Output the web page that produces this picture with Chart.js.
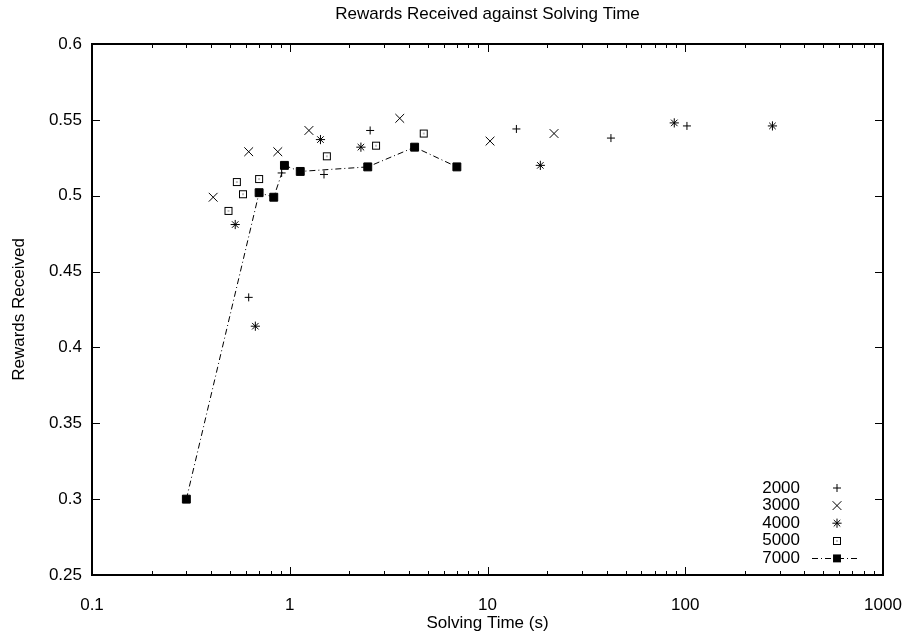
<!DOCTYPE html>
<html><head><meta charset="utf-8">
<script src="https://cdn.jsdelivr.net/npm/chart.js@4.4.0/dist/chart.umd.min.js"></script>
<style>html,body{margin:0;padding:0;background:#fff;}#wrap{width:908px;height:635px;}</style>
</head><body><div id="wrap"><canvas id="c" width="908" height="635"></canvas></div>
<script>
// ---- data ----
const seriesNames = ['2000', '3000', '4000', '5000', '7000'];
const t2000 = [0.62, 0.91, 1.49, 2.55, 14.0, 42.1, 102];
const r2000 = [0.433, 0.515, 0.514, 0.543, 0.544, 0.538, 0.546];
const t3000 = [0.41, 0.62, 0.87, 1.25, 3.6, 10.3, 21.7];
const r3000 = [0.499, 0.529, 0.529, 0.543, 0.551, 0.536, 0.541];
const t4000 = [0.53, 0.67, 1.43, 2.29, 18.5, 88, 276];
const r4000 = [0.481, 0.414, 0.537, 0.532, 0.520, 0.548, 0.546];
const t5000 = [0.49, 0.54, 0.58, 0.70, 1.54, 2.73, 4.76];
const r5000 = [0.490, 0.509, 0.501, 0.511, 0.526, 0.533, 0.541];
const t7000 = [0.30, 0.70, 0.83, 0.94, 1.13, 2.48, 4.28, 7.0];
const r7000 = [0.300, 0.502, 0.499, 0.520, 0.516, 0.519, 0.532, 0.519];
const xTickValues = [0.1, 1, 10, 100, 1000];
const yRange = [0.25, 0.6];

const FONT = '"Liberation Sans", Arial, Helvetica, sans-serif';
const FS = 17;
const DASH = [6, 3, 1, 3];

function pts(xs, ys) { return xs.map((v, i) => ({ x: v, y: ys[i] })); }

// square-with-dot marker
const sqDot = document.createElement('canvas');
sqDot.width = 10; sqDot.height = 10;
(function () {
  const g = sqDot.getContext('2d');
  g.strokeStyle = '#000'; g.lineWidth = 1;
  g.strokeRect(1.5, 1.5, 7, 7);
  g.fillStyle = '#000'; g.fillRect(4.5, 4.5, 1, 1);
})();

const styles = [
  { pointStyle: 'cross', pointRadius: 4 },
  { pointStyle: 'crossRot', pointRadius: 6.2 },
  { pointStyle: 'star', pointRadius: 4.6 },
  { pointStyle: sqDot, pointRadius: 5 },
  { pointStyle: 'rect', pointRadius: 5.6 }
];
const xs = [t2000, t3000, t4000, t5000, t7000];
const ys = [r2000, r3000, r4000, r5000, r7000];

const datasets = seriesNames.map((n, i) => ({
  label: n,
  data: pts(xs[i], ys[i]),
  pointStyle: styles[i].pointStyle,
  pointRadius: styles[i].pointRadius,
  pointHoverRadius: styles[i].pointRadius,
  pointBorderColor: '#000',
  pointBackgroundColor: '#000',
  pointBorderWidth: 1,
  borderColor: '#000',
  borderWidth: 1,
  borderDash: i === 4 ? DASH : [],
  showLine: i === 4,
  fill: false
}));

function drawSym(ctx, ds, x, y) {
  const r = ds.pointRadius;
  ctx.save();
  ctx.strokeStyle = '#000'; ctx.fillStyle = '#000'; ctx.lineWidth = 1; ctx.setLineDash([]);
  const st = ds.pointStyle;
  ctx.beginPath();
  if (st === 'cross' || st === 'star') {
    ctx.moveTo(x - r, y); ctx.lineTo(x + r, y); ctx.moveTo(x, y - r); ctx.lineTo(x, y + r);
  }
  if (st === 'crossRot' || st === 'star') {
    const d = r * Math.SQRT1_2;
    ctx.moveTo(x - d, y - d); ctx.lineTo(x + d, y + d); ctx.moveTo(x - d, y + d); ctx.lineTo(x + d, y - d);
  }
  ctx.stroke();
  if (st === 'rect') {
    const s = r * Math.SQRT1_2;
    ctx.fillRect(x - s, y - s, 2 * s, 2 * s);
  } else if (typeof st !== 'string') {
    ctx.drawImage(st, Math.round(x - st.width / 2), Math.round(y - st.height / 2));
  }
  ctx.restore();
}

const framePlugin = {
  id: 'frame',
  beforeDatasetsDraw(chart) {
    const { ctx, chartArea: a, scales } = chart;
    const x = scales.x, y = scales.y;
    ctx.save();
    ctx.strokeStyle = '#000'; ctx.lineWidth = 1;
    ctx.beginPath();
    const major = 8, minor = 4;
    for (let e = -1; e < 3; e++) {
      for (let m = 1; m < 10; m++) {
        const v = m * Math.pow(10, e);
        const px = Math.round(x.getPixelForValue(v)) + 0.5;
        const len = m === 1 ? major : minor;
        ctx.moveTo(px, a.bottom); ctx.lineTo(px, a.bottom - len);
        ctx.moveTo(px, a.top); ctx.lineTo(px, a.top + len);
      }
    }
    y.ticks.forEach(t => {
      const py = Math.round(y.getPixelForValue(t.value)) + 0.5;
      ctx.moveTo(a.left, py); ctx.lineTo(a.left + major, py);
      ctx.moveTo(a.right, py); ctx.lineTo(a.right - major, py);
    });
    ctx.stroke();
    ctx.lineWidth = 2;
    ctx.strokeRect(a.left, a.top, a.right - a.left, a.bottom - a.top);
    ctx.restore();
  }
};

const legendPlugin = {
  id: 'gpLegend',
  afterDatasetsDraw(chart) {
    const { ctx, chartArea: a } = chart;
    ctx.save();
    ctx.font = FS + 'px ' + FONT;
    ctx.fillStyle = '#000'; ctx.textAlign = 'right'; ctx.textBaseline = 'middle';
    chart.data.datasets.forEach((ds, i) => {
      const yy = a.bottom - 87 + i * 17.6;
      ctx.fillText(ds.label, a.right - 83, yy);
      const sx = a.right - 46;
      if (ds.showLine) {
        ctx.save();
        ctx.strokeStyle = '#000'; ctx.lineWidth = 1; ctx.setLineDash(DASH);
        ctx.beginPath();
        ctx.moveTo(a.right - 71, Math.round(yy) + 0.5); ctx.lineTo(a.right - 24, Math.round(yy) + 0.5);
        ctx.stroke();
        ctx.restore();
      }
      drawSym(ctx, ds, sx, yy);
    });
    ctx.restore();
  }
};

new Chart(document.getElementById('c'), {
  type: 'scatter',
  data: { datasets },
  options: {
    responsive: false,
    animation: false,
    devicePixelRatio: 1,
    layout: { padding: { left: 0, right: 25, top: 0, bottom: 0 } },
    plugins: {
      legend: { display: false },
      tooltip: { enabled: false },
      title: {
        display: true, fullSize: false,
        text: 'Rewards Received against Solving Time',
        color: '#000',
        font: { family: FONT, size: FS, weight: 'normal' },
        padding: { top: 4, bottom: 19.6 }
      }
    },
    scales: {
      x: {
        type: 'logarithmic', min: 0.1, max: 1000,
        afterBuildTicks: s => { s.ticks = xTickValues.map(v => ({ value: v })); },
        afterFit: s => { s.height = 60; s.paddingLeft = 0; s.paddingRight = 0; },
        ticks: { color: '#000', font: { family: FONT, size: FS }, padding: 20, maxRotation: 0, autoSkip: false,
                 callback: v => String(v) },
        grid: { display: false, drawTicks: false },
        border: { display: false },
        title: { display: true, text: 'Solving Time (s)', color: '#000', font: { family: FONT, size: FS }, padding: { top: 0, bottom: 1 } }
      },
      y: {
        min: yRange[0], max: yRange[1],
        afterFit: s => { s.width = 92; s.paddingTop = 0; s.paddingBottom = 0; },
        ticks: { stepSize: 0.05, color: '#000', font: { family: FONT, size: FS }, padding: 10,
                 callback: v => String(parseFloat(v.toFixed(2))) },
        grid: { display: false, drawTicks: false },
        border: { display: false },
        title: { display: true, text: 'Rewards Received', color: '#000', font: { family: FONT, size: FS }, padding: { top: 9, bottom: 0 } }
      }
    }
  },
  plugins: [framePlugin, legendPlugin]
});
</script></body></html>
